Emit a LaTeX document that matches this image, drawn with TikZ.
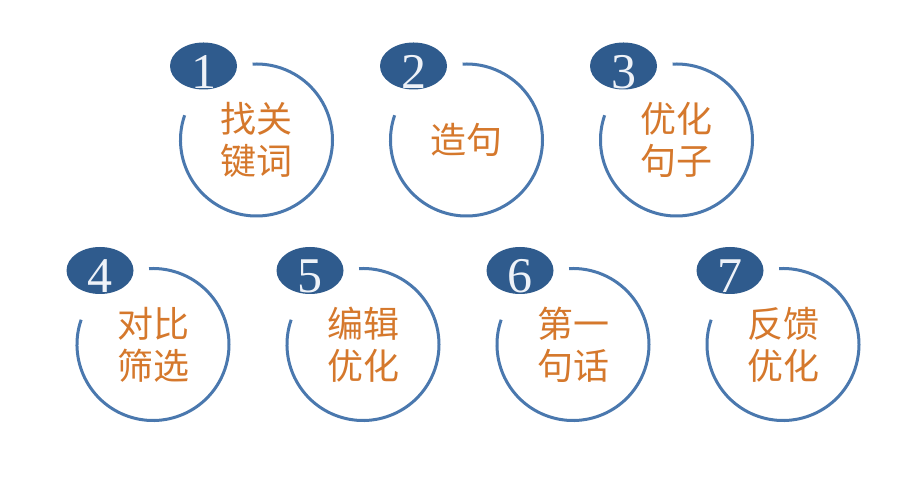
\documentclass[tikz,border=0pt]{standalone}
\usepackage{fontspec}
\usepackage{tikz}
\usetikzlibrary{shapes,positioning}
\newfontfamily\cjk{Noto Sans CJK SC}
\newfontfamily\numfont{Liberation Serif}
\definecolor{ringblue}{HTML}{4A78AE}
\definecolor{badgeblue}{HTML}{2F5B8D}
\definecolor{wordorange}{HTML}{D5782C}
\definecolor{numwhite}{HTML}{EEF2F8}

\begin{document}
\begin{tikzpicture}[x=1pt, y=1pt, node distance=58pt]
    \tikzstyle{ring} = [circle, minimum size=152pt, inner sep=0pt, outer sep=0pt, align=center, text=wordorange, font=\cjk\fontsize{36pt}{42pt}\selectfont]
    \tikzstyle{arcline} = [draw=ringblue, line width=3pt]
    \tikzstyle{badge} = [ellipse, fill=badgeblue, minimum width=67pt, minimum height=47pt, inner sep=0pt]
    \tikzstyle{num} = [text=numwhite, inner sep=0pt, font=\numfont\fontsize{50pt}{50pt}\selectfont]

    \path[use as bounding box, fill=white] (0,0) rectangle (910,494);

    % top row
    \node[ring] (step1) at (256.5,354) {找关\\键词};
    \node[ring, right=of step1] (step2) {造句};
    \node[ring, right=of step2] (step3) {优化\\句子};
    % bottom row
    \node[ring] (step4) at (153,149.5) {对比\\筛选};
    \node[ring, right=of step4] (step5) {编辑\\优化};
    \node[ring, right=of step5] (step6) {第一\\句话};
    \node[ring, right=of step6] (step7) {反馈\\优化};

    \path[arcline] ([shift={(161:76pt)}]step1.center) arc[start angle=161, end angle=453, radius=76pt];
    \path[arcline] ([shift={(161:76pt)}]step2.center) arc[start angle=161, end angle=453, radius=76pt];
    \path[arcline] ([shift={(161:76pt)}]step3.center) arc[start angle=161, end angle=453, radius=76pt];
    \path[arcline] ([shift={(161:76pt)}]step4.center) arc[start angle=161, end angle=453, radius=76pt];
    \path[arcline] ([shift={(161:76pt)}]step5.center) arc[start angle=161, end angle=453, radius=76pt];
    \path[arcline] ([shift={(161:76pt)}]step6.center) arc[start angle=161, end angle=453, radius=76pt];
    \path[arcline] ([shift={(161:76pt)}]step7.center) arc[start angle=161, end angle=453, radius=76pt];

    \node[badge] (badge1) at ([shift={(-53pt,74pt)}]step1.center) {};
    \node[badge] (badge2) at ([shift={(-53pt,74pt)}]step2.center) {};
    \node[badge] (badge3) at ([shift={(-53pt,74pt)}]step3.center) {};
    \node[badge] (badge4) at ([shift={(-53pt,74pt)}]step4.center) {};
    \node[badge] (badge5) at ([shift={(-53pt,74pt)}]step5.center) {};
    \node[badge] (badge6) at ([shift={(-53pt,74pt)}]step6.center) {};
    \node[badge] (badge7) at ([shift={(-53pt,74pt)}]step7.center) {};

    \node[num] (num1) at ([yshift=-6pt]badge1.center) {1};
    \node[num] (num2) at ([yshift=-6pt]badge2.center) {2};
    \node[num] (num3) at ([yshift=-6pt]badge3.center) {3};
    \node[num] (num4) at ([yshift=-6pt]badge4.center) {4};
    \node[num] (num5) at ([yshift=-6pt]badge5.center) {5};
    \node[num] (num6) at ([yshift=-6pt]badge6.center) {6};
    \node[num] (num7) at ([yshift=-6pt]badge7.center) {7};
\end{tikzpicture}
\end{document}
